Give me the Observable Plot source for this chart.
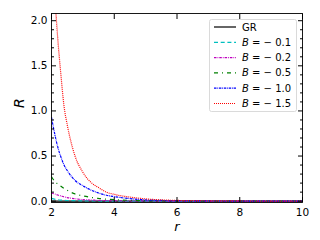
<!DOCTYPE html>
<html><head><meta charset="utf-8">
<script src="https://cdn.jsdelivr.net/npm/d3@7"></script>
<script src="https://cdn.jsdelivr.net/npm/@observablehq/plot@0.6"></script>
<style>
body{margin:0;background:#fff}
svg{font-family:"DejaVu Sans",sans-serif}
</style>
</head><body><div id="chart"></div>
<script>
// r grid
const rGrid = [2, 2.1, 2.2, 2.3, 2.4, 2.5, 2.75, 3, 3.25, 3.5, 3.75, 4, 4.5, 5, 5.5, 6, 7, 8, 9, 10];
// R values per series
const R_GR   = [0,0,0,0,0,0,0,0,0,0,0,0,0,0,0,0,0,0,0,0];
const R_B01  = [0.03,0.022,0.016,0.012,0.009,0.007,0.005,0.003,0.002,0.0015,0.001,0.0008,0.0005,0.0003,0.0002,0.0001,0.0001,0,0,0];
const R_B02  = [0.09,0.08,0.068,0.058,0.048,0.04,0.027,0.017,0.012,0.009,0.006,0.005,0.003,0.002,0.001,0.0008,0.0005,0.0003,0.0002,0.0001];
const R_B05  = [0.27,0.22,0.19,0.165,0.14,0.12,0.08,0.058,0.042,0.03,0.022,0.016,0.009,0.005,0.003,0.002,0.001,0.0005,0.0003,0.0002];
const R_B10  = [0.93,0.75,0.6,0.49,0.4,0.34,0.23,0.17,0.125,0.09,0.065,0.05,0.028,0.014,0.008,0.005,0.002,0.001,0.0006,0.0004];
const R_B15  = [2.9,2.3,1.8,1.4,1.05,0.85,0.5,0.32,0.21,0.15,0.1,0.075,0.045,0.025,0.014,0.008,0.004,0.002,0.001,0.0008];

const seriesNames = ["GR", "−0.1", "−0.2", "−0.5", "−1.0", "−1.5"];
const seriesValues = [R_GR, R_B01, R_B02, R_B05, R_B10, R_B15];
const seriesColors = ["#000000", "#00bfbf", "#bf00bf", "#008000", "#0000ff", "#ff0000"];
const seriesDash = [null, "4,2.7", "2.5,1,0.8,1", "4,4,1,4", "2.5,0.8,0.8,0.8", "1,1"];

const xTicks = [2, 4, 6, 8, 10];
const yTicks = [0, 0.5, 1.0, 1.5, 2.0];
const yMinorTicks = [0.1,0.2,0.3,0.4,0.6,0.7,0.8,0.9,1.1,1.2,1.3,1.4,1.6,1.7,1.8,1.9];

const series = seriesNames.map((name, k) => ({
  name, color: seriesColors[k], dash: seriesDash[k],
  data: rGrid.map((r, i) => ({r, R: seriesValues[k][i]}))
}));

const lineMarks = series.map(s => Plot.line(s.data, {
  x: "r", y: "R", stroke: s.color, strokeWidth: 1.2,
  strokeLinecap: "butt", strokeLinejoin: "miter",
  strokeDasharray: s.dash ?? undefined, curve: "monotone-x", clip: true
}));

const chart = Plot.plot({
  width: 320, height: 240,
  marginLeft: 51, marginRight: 18, marginTop: 13, marginBottom: 38,
  style: {fontFamily: "DejaVu Sans", fontSize: "10.5px", color: "#000", background: "#fff"},
  x: {domain: [2, 10]},
  y: {domain: [-0.015, 2.08]},
  marks: [
    ...lineMarks,
    Plot.axisX({anchor: "bottom", ticks: xTicks, tickSize: -5, tickPadding: 11, label: null, tickFormat: d => String(d)}),
    Plot.axisX({anchor: "top", ticks: xTicks, tickSize: -5, tickFormat: () => "", label: null}),
    Plot.axisY({anchor: "left", ticks: yTicks, tickSize: -5, tickPadding: 9, label: null, tickFormat: d3.format(".1f")}),
    Plot.axisY({anchor: "left", ticks: yMinorTicks, tickSize: -3, tickFormat: () => "", label: null}),
    Plot.axisY({anchor: "right", ticks: yTicks, tickSize: -5, tickFormat: () => "", label: null}),
    Plot.axisY({anchor: "right", ticks: yMinorTicks, tickSize: -3, tickFormat: () => "", label: null}),
    Plot.frame({stroke: "#000", strokeWidth: 0.9}),
    Plot.text(["R"], {text: d => d, frameAnchor: "left", dx: -32, rotate: -90, fontSize: 14, fontStyle: "italic"}),
    Plot.text(["r"], {text: d => d, frameAnchor: "bottom", dy: 28, fontSize: 13, fontStyle: "italic"})
  ]
});

// Legend
const svg = d3.select(chart);
const lg = svg.append("g").attr("text-anchor", "start");
lg.append("rect").attr("x", 209.5).attr("y", 19.5).attr("width", 87).attr("height", 92)
  .attr("rx", 2).attr("fill", "#fff").attr("fill-opacity", 0.8).attr("stroke", "#d0d0d0").attr("stroke-width", 0.8);
series.forEach((s, k) => {
  const y = 27 + k * 15.3;
  const ln = lg.append("line").attr("x1", 214).attr("x2", 236).attr("y1", y).attr("y2", y)
    .attr("stroke", s.color).attr("stroke-width", 1.2).attr("stroke-linecap", "butt");
  if (s.dash) ln.attr("stroke-dasharray", s.dash);
  const t = lg.append("text").attr("x", 242).attr("y", y).attr("dy", "0.35em")
    .attr("font-size", 10).attr("fill", "#000").attr("text-anchor", "start");
  if (k === 0) t.text(s.name);
  else {
    t.append("tspan").attr("font-style", "italic").text("B");
    t.append("tspan").text(" = " + s.name.replace("−", "− "));
  }
});

document.getElementById("chart").appendChild(chart);
</script>
</body></html>
